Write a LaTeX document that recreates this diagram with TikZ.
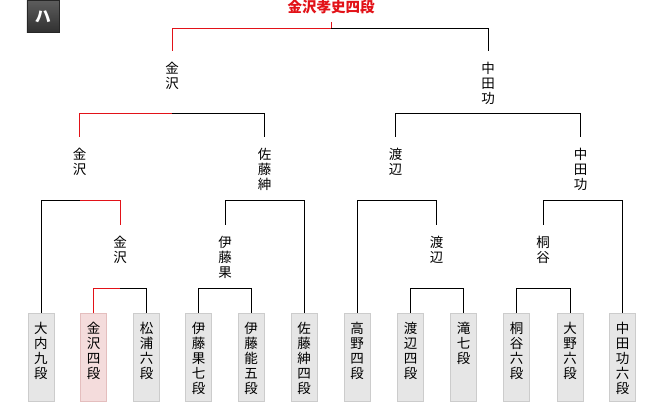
\documentclass[tikz,border=0pt]{standalone}
\usepackage{fontspec}
\newfontfamily\jp{Noto Sans CJK JP}
\definecolor{winred}{RGB}{226,18,24}
\definecolor{boxfill}{RGB}{230,230,230}
\definecolor{boxborder}{RGB}{204,204,204}
\definecolor{pinkfill}{RGB}{244,220,220}
\definecolor{pinkborder}{RGB}{228,190,190}
\definecolor{tagtop}{RGB}{92,92,92}
\definecolor{tagbot}{RGB}{48,48,48}
\usetikzlibrary{calc}
\begin{document}
\begin{tikzpicture}[x=1pt,y=-1pt,
  conn/.style={line width=1pt, draw=black},
  win/.style={line width=1pt, draw=winred},
  plate/.style={draw=boxborder, fill=boxfill, line width=1pt, minimum width=26pt, minimum height=88pt, inner sep=0pt, anchor=north},
  platewin/.style={plate, draw=pinkborder, fill=pinkfill},
  platetxt/.style={font=\jp\fontsize{13.5}{15}\selectfont, align=center, inner sep=0pt, anchor=north},
  namelbl/.style={font=\jp\fontsize{13.5}{15}\selectfont, align=center, inner sep=0pt, outer ysep=11pt, anchor=north}]
\useasboundingbox (0,0) rectangle (662,403);
\fill[white] (0,0) rectangle (662,403);

% tag box
\node[draw=black!85, line width=0.6pt, top color=tagtop, bottom color=tagbot, minimum width=32pt, minimum height=32pt, inner sep=0pt, anchor=north west, text=white, font=\jp\bfseries\fontsize{16}{16}\selectfont] (tag) at (26.5,0.5) {ハ};

% title
\node[font=\jp\bfseries\fontsize{14.5}{15}\selectfont, text=winred, inner sep=0pt, outer ysep=7.5pt, anchor=north] (title) at (331,-7) {金沢孝史四段};

% boxes
\foreach \n/\x/\t in {b1/41/大\\内\\九\\段, b3/146.5/松\\浦\\六\\段, b4/198.5/伊\\藤\\果\\七\\段, b5/251/伊\\藤\\能\\五\\段, b6/304/佐\\藤\\紳\\四\\段, b7/357/高\\野\\四\\段, b8/410.5/渡\\辺\\四\\段, b9/463.5/滝\\七\\段, b10/516.5/桐\\谷\\六\\段, b11/570/大\\野\\六\\段, b12/622.5/中\\田\\功\\六\\段}{
  \node[plate] (\n) at (\x,313) {};
  \node[platetxt] (\n t) at (\x,322) {\t};
}
\node[platewin] (b2) at (93.5,313) {};
\node[platetxt] (b2t) at (93.5,322) {金\\沢\\四\\段};

% junction coordinates
\coordinate (j0) at (331,28.5);
\coordinate (j1a) at (172,113.5);
\coordinate (j1b) at (488,113.5);
\coordinate (j2a) at (80,200.5);
\coordinate (j2b) at (264.5,200.5);
\coordinate (j2c) at (396,200.5);
\coordinate (j2d) at (582,200.5);
\coordinate (j3a) at (120,288.5);
\coordinate (j3b) at (225,288.5);
\coordinate (j3c) at (437,288.5);
\coordinate (j3d) at (543,288.5);

% labels
\node[namelbl] (a1) at (172,51) {金\\沢};
\node[namelbl] (a2) at (488,51) {中\\田\\功};
\node[namelbl] (c1) at (79.5,137) {金\\沢};
\node[namelbl] (c2) at (264.5,137) {佐\\藤\\紳};
\node[namelbl] (c3) at (395.5,137) {渡\\辺};
\node[namelbl] (c4) at (580.5,137) {中\\田\\功};
\node[namelbl] (d1) at (120,225) {金\\沢};
\node[namelbl] (d2) at (225,225) {伊\\藤\\果};
\node[namelbl] (d3) at (436.5,225) {渡\\辺};
\node[namelbl] (d4) at (543,225) {桐\\谷};

% connectors
\draw[conn] (a1.north) |- (j0) -| (a2.north);
\draw[conn] (c1.north) |- (j1a) -| (c2.north);
\draw[conn] (c3.north) |- (j1b) -| (c4.north);
\draw[conn] (b1.north) |- (j2a) -| (d1.north);
\draw[conn] (d2.north) |- (j2b) -| (b6.north);
\draw[conn] (b7.north) |- (j2c) -| (d3.north);
\draw[conn] (d4.north) |- (j2d) -| (b12.north);
\draw[conn] (b2.north) |- (j3a) -| (b3.north);
\draw[conn] (b4.north) |- (j3b) -| (b5.north);
\draw[conn] (b8.north) |- (j3c) -| (b9.north);
\draw[conn] (b10.north) |- (j3d) -| (b11.north);

% winner path
\draw[win] (title.south) -- (j0);
\draw[win] (a1.north) |- (j0);
\draw[win] (c1.north) |- (j1a);
\draw[win] (j2a) -| (d1.north);
\draw[win] (b2.north) |- (j3a);
\end{tikzpicture}
\end{document}
